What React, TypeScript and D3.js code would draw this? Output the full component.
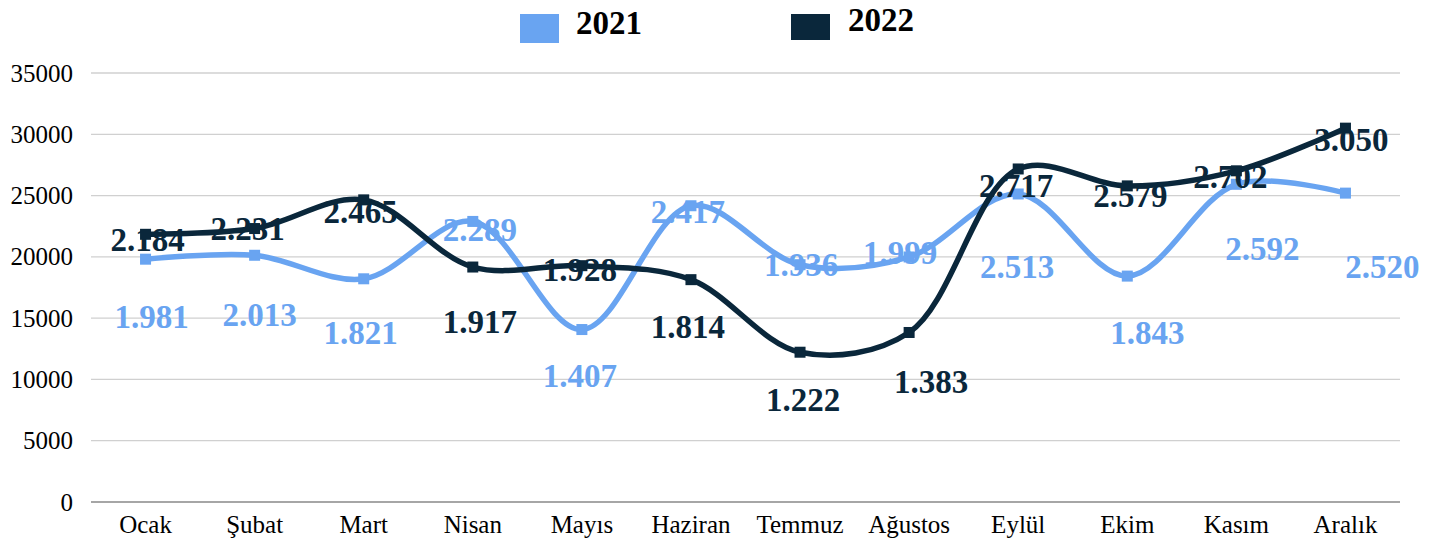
import React from "react";
import * as d3 from "d3";

const months = ["Ocak", "Şubat", "Mart", "Nisan", "Mayıs", "Haziran", "Temmuz", "Ağustos", "Eylül", "Ekim", "Kasım", "Aralık"];
const values2021 = [19810, 20130, 18210, 22890, 14070, 24170, 19360, 19990, 25130, 18430, 25920, 25200];
const values2022 = [21840, 22310, 24650, 19170, 19280, 18140, 12220, 13830, 27170, 25790, 27020, 30500];
const labels2021 = ["1.981", "2.013", "1.821", "2.289", "1.407", "2.417", "1.936", "1.999", "2.513", "1.843", "2.592", "2.520"];
const labels2022 = ["2.184", "2.231", "2.465", "1.917", "1.928", "1.814", "1.222", "1.383", "2.717", "2.579", "2.702", "3.050"];
const yTicks = [0, 5000, 10000, 15000, 20000, 25000, 30000, 35000];

// label placement offsets (layout, pixels from point to label centre)
const off2021 = [[6, 58], [5, 60], [-3, 54], [7, 8], [-2, 46], [-3, 6], [1, 0], [-9, -4], [-1, 73], [20, 57], [26, 64], [37, 74]];
const off2022 = [[2, 5], [-7, 0], [-3, 12], [7, 55], [-2, 4], [-3, 47], [3, 48], [22, 49], [-2, 17], [3, 10], [-6, 6], [6, 12]];

const C21 = "#69a4f1";
const C22 = "#0a273b";

export default function App() {
  const W = 1445, H = 541;
  const left = 91, right = 1400, top = 73, bottom = 502;
  const x = d3.scaleBand<string>().domain(months).range([left, right]);
  const y = d3.scaleLinear().domain([0, 35000]).range([bottom, top]);
  const cx = (m: string) => (x(m) as number) + x.bandwidth() / 2;
  const line = d3.line<number>().x((_, i) => cx(months[i])).y((v) => y(v)).curve(d3.curveCatmullRom.alpha(0.5));

  const series = [
    { vals: values2021, labels: labels2021, off: off2021, color: C21 },
    { vals: values2022, labels: labels2022, off: off2022, color: C22 },
  ];

  return (
    <svg width={W} height={H} style={{ position: "absolute", left: 0, top: 0, background: "#fff" }} fontFamily="'Liberation Serif', serif">
      {yTicks.map((t) => (
        <g key={t}>
          <line x1={left} x2={right} y1={y(t)} y2={y(t)} stroke={t === 0 ? "#a6a6a6" : "#d0d0d0"} strokeWidth={t === 0 ? 2 : 1.3} />
          <text x={73} y={y(t)} dy="0.34em" textAnchor="end" fontSize={25} fill="#000">{t}</text>
        </g>
      ))}
      {months.map((m) => (
        <text key={m} x={cx(m)} y={533} textAnchor="middle" fontSize={25} fill="#000">{m}</text>
      ))}
      {series.map((s, si) => (
        <g key={si}>
          <path d={line(s.vals) || ""} fill="none" stroke={s.color} strokeWidth={5.5} strokeLinejoin="round" />
          {s.vals.map((v, i) => (
            <rect key={i} x={cx(months[i]) - 5.5} y={y(v) - 5.5} width={11} height={11} fill={s.color} />
          ))}
        </g>
      ))}
      {series.map((s, si) => (
        <g key={"l" + si}>
          {s.vals.map((v, i) => (
            <text key={i} x={cx(months[i]) + s.off[i][0]} y={y(v) + s.off[i][1]} dy="0.34em" textAnchor="middle" fontSize={33} fontWeight="bold" fill={s.color}>{s.labels[i]}</text>
          ))}
        </g>
      ))}
      <rect x={520} y={14} width={39} height={29} fill={C21} />
      <text x={576} y={34} fontSize={33} fontWeight="bold" fill="#000">2021</text>
      <rect x={791} y={14} width={39} height={26} fill={C22} />
      <text x={848} y={31} fontSize={33} fontWeight="bold" fill="#000">2022</text>
    </svg>
  );
}
